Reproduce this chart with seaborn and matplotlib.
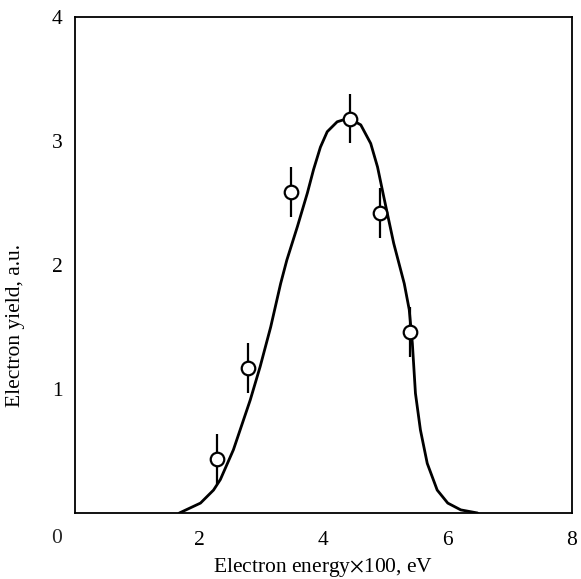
import numpy as np
import pandas as pd
import matplotlib
matplotlib.use("Agg")
import matplotlib.pyplot as plt
import seaborn as sns

# measured points
energy = [2.29, 2.79, 3.48, 4.43, 4.91, 5.39]
yield_ = [0.435, 1.17, 2.59, 3.18, 2.42, 1.46]
err = [0.2, 0.2, 0.2, 0.2, 0.2, 0.2]

# fitted curve
curve_x = [1.68, 2.02, 2.23, 2.34, 2.55, 2.82, 2.98, 3.15, 3.31, 3.41, 3.58, 3.74,
           3.84, 3.95, 4.06, 4.22, 4.38, 4.44, 4.60, 4.76, 4.87, 4.97, 5.13, 5.30,
           5.38, 5.43, 5.48, 5.56, 5.67, 5.83, 6.00, 6.21, 6.48]
curve_y = [0.0, 0.08, 0.185, 0.27, 0.51, 0.91, 1.18, 1.50, 1.85, 2.04, 2.31, 2.58,
           2.77, 2.95, 3.075, 3.155, 3.18, 3.175, 3.13, 2.98, 2.79, 2.55, 2.175, 1.85,
           1.64, 1.37, 0.965, 0.67, 0.40, 0.185, 0.08, 0.025, 0.0]

xticks = [2, 4, 6, 8]
yticks = [1, 2, 3, 4]

sns.set_theme(style="white")
plt.rcParams['font.family'] = ['Liberation Serif', 'DejaVu Serif']
plt.rcParams['mathtext.fontset'] = 'stix'

FS = 15.5

fig = plt.figure(figsize=(5.81, 5.79), dpi=100)
ax = fig.add_axes([75/581, 66/579, 497/581, 496/579])

df_curve = pd.DataFrame({"x": curve_x, "y": curve_y})
sns.lineplot(data=df_curve, x="x", y="y", ax=ax, color="black", lw=2.0,
             estimator=None, sort=False)
for l in ax.lines:
    l.set_solid_joinstyle("round")

ax.errorbar(energy, yield_, yerr=err, fmt="none", ecolor="black", elinewidth=1.6,
            capsize=0, zorder=3)
df_pts = pd.DataFrame({"x": energy, "y": yield_})
sns.scatterplot(data=df_pts, x="x", y="y", ax=ax, s=95, facecolor="white",
                edgecolor="black", linewidth=1.6, zorder=4)

ax.set_xlim(0, 8)
ax.set_ylim(0, 4)
ax.set_xticks(xticks)
ax.set_yticks(yticks)
ax.set_xticklabels([str(v) for v in xticks])
ax.set_yticklabels([str(v) for v in yticks])
ax.tick_params(axis="both", direction="in", length=8.5, width=1.2, color="black",
               labelsize=FS, labelcolor="black")
ax.tick_params(axis="x", pad=13)
ax.tick_params(axis="y", pad=9)
for s in ax.spines.values():
    s.set_visible(True)
    s.set_color("black")
    s.set_linewidth(1.3)

ax.annotate("0", xy=(0, 0), xycoords="data", xytext=(-13.5, -18.5),
            textcoords="offset points", ha="center", va="center", fontsize=FS)

ax.set_xlabel("Electron energy$\\times$100, eV", fontsize=FS, color="black")
ax.set_ylabel("Electron yield, a.u.", fontsize=FS, color="black")
ax.xaxis.set_label_coords(0.5, -0.087)
ax.yaxis.set_label_coords(-0.1, 0.379)
ax.grid(False)

fig.savefig("out.png", dpi=100)
